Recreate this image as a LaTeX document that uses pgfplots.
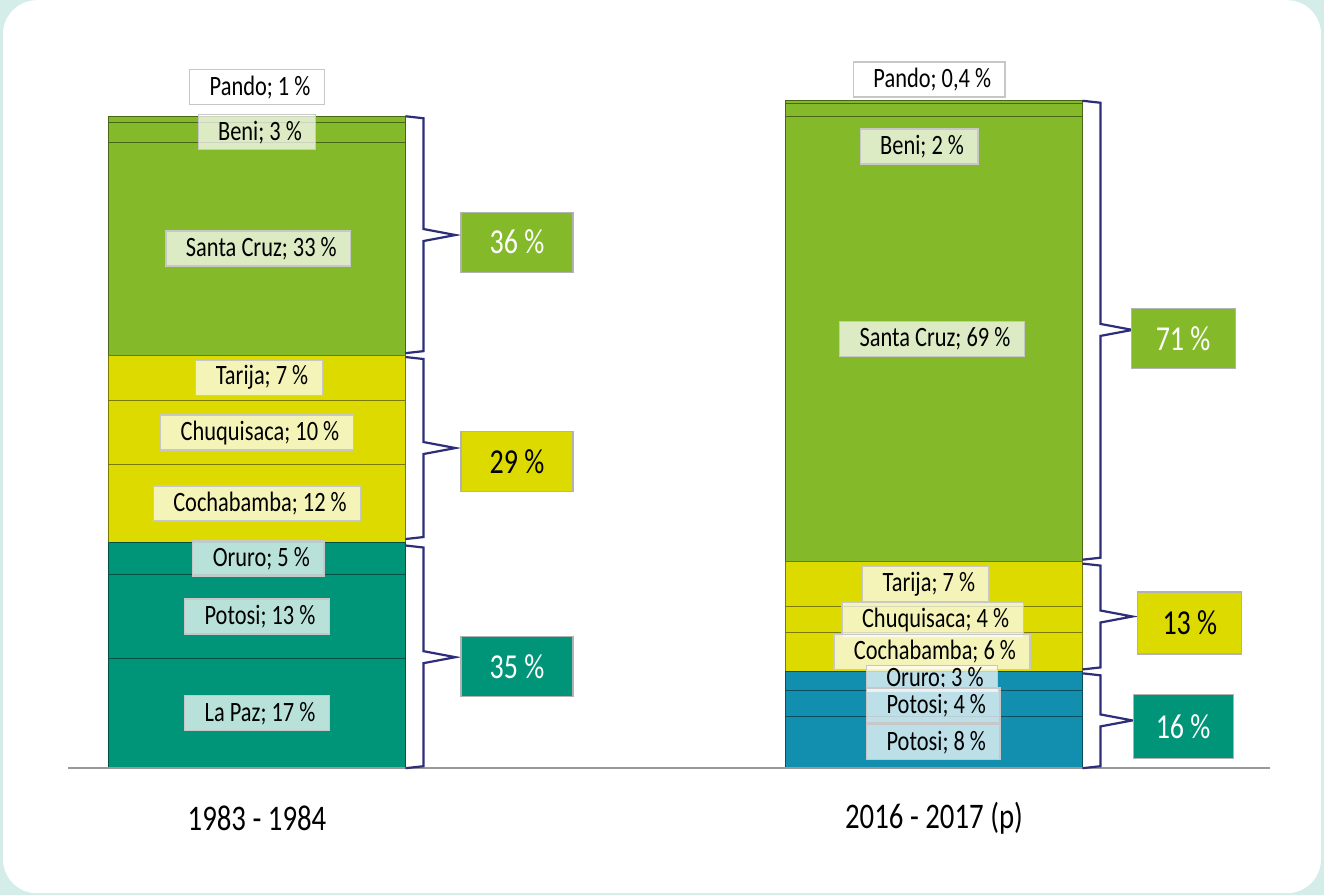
\documentclass[border=0pt]{standalone}
\usepackage{pgfplots}
\pgfplotsset{compat=1.18}
\usepackage{fontspec}
\setmainfont{Carlito}[FakeStretch=0.8]
\usetikzlibrary{calc}

\definecolor{cGreen}{HTML}{84B92A}
\definecolor{cYellow}{HTML}{DDDA00}
\definecolor{cTeal}{HTML}{009479}
\definecolor{cBlue}{HTML}{128FAE}
\definecolor{cBrace}{HTML}{2D2E7A}
\definecolor{cMint}{HTML}{D4EDE9}

\tikzset{
  seg/.style={fill=white, fill opacity=0.72, text opacity=1, draw=black!22,
    line width=0.6pt, inner xsep=7pt, inner ysep=0pt, minimum height=17.5pt,
    font=\fontsize{14}{14}\selectfont, execute at begin node=\hspace*{3pt}},
  grp/.style={draw=black!30, line width=0.6pt, minimum width=56pt,
    minimum height=30pt, font=\fontsize{17.5}{17.5}\selectfont},
}

% group brace: edge x, top y, bottom y, middle y
\newcommand{\gbrace}[4]{%
  \draw[cBrace, line width=1.1pt, line join=miter, miter limit=12]
    (axis cs:#1,#2) -- ++(9pt,-1pt)
    -- ($(axis cs:#1,#4)+(9pt,3pt)$) -- ++(16pt,-3pt) -- ++(-16pt,-3pt)
    -- ($(axis cs:#1,#3)+(9pt,1pt)$) -- (axis cs:#1,#3);}

\pgfplotsset{
  panel/.style={
    at={(0pt,0pt)}, anchor=south west,
    scale only axis, width=662pt, height=447.5pt,
    xmin=-0.3796, xmax=1.5761, ymin=-19.675, ymax=118.98,
    axis line style={draw=none}, major tick length=0pt,
    ytick=\empty, xtick=\empty, clip=false,
    /pgf/number format/assume math mode=true,
  },
  bars/.style={panel, ybar stacked, bar width=148.5pt},
}

\begin{document}
\begin{tikzpicture}
% frame
\fill[cMint] (0,0) rectangle (662pt,447.5pt);
\fill[white, rounded corners=17pt] (1.5pt,1pt) rectangle (660.5pt,447.5pt);

% 1983 - 1984
\begin{axis}[bars]
\addplot[fill=cTeal, draw=cTeal!55!black, line width=0.5pt] coordinates {(0,17)};
\addplot[fill=cTeal, draw=cTeal!55!black, line width=0.5pt] coordinates {(0,13)};
\addplot[fill=cTeal, draw=cTeal!55!black, line width=0.5pt] coordinates {(0,5)};
\addplot[fill=cYellow, draw=cYellow!55!black, line width=0.5pt] coordinates {(0,12)};
\addplot[fill=cYellow, draw=cYellow!55!black, line width=0.5pt] coordinates {(0,10)};
\addplot[fill=cYellow, draw=cYellow!55!black, line width=0.5pt] coordinates {(0,7)};
\addplot[fill=cGreen, draw=cGreen!55!black, line width=0.5pt] coordinates {(0,33)};
\addplot[fill=cGreen, draw=cGreen!55!black, line width=0.5pt] coordinates {(0,3)};
\addplot[fill=cGreen, draw=cGreen!55!black, line width=0.5pt] coordinates {(0,1)};
\end{axis}

% 2016 - 2017 (p)
\begin{axis}[bars]
\addplot[fill=cBlue, draw=cBlue!55!black, line width=0.5pt] coordinates {(1,8)};
\addplot[fill=cBlue, draw=cBlue!55!black, line width=0.5pt] coordinates {(1,4)};
\addplot[fill=cBlue, draw=cBlue!55!black, line width=0.5pt] coordinates {(1,3)};
\addplot[fill=cYellow, draw=cYellow!55!black, line width=0.5pt] coordinates {(1,6)};
\addplot[fill=cYellow, draw=cYellow!55!black, line width=0.5pt] coordinates {(1,4)};
\addplot[fill=cYellow, draw=cYellow!55!black, line width=0.5pt] coordinates {(1,7)};
\addplot[fill=cGreen, draw=cGreen!55!black, line width=0.5pt] coordinates {(1,69)};
\addplot[fill=cGreen, draw=cGreen!55!black, line width=0.5pt] coordinates {(1,2)};
\addplot[fill=cGreen, draw=cGreen!55!black, line width=0.5pt] coordinates {(1,0.4)};
\end{axis}

% labels, braces and group totals
\begin{axis}[panel, xtick={0,1},
  xticklabels={1983 - 1984, 2016 - 2017 (p)},
  xticklabel style={anchor=center, yshift=38.5pt, font=\fontsize{18}{18}\selectfont}]
\draw[black!40, line width=0.8pt] (axis cs:-0.2792,0) -- (axis cs:1.4963,0);

\node[seg, fill opacity=1] at (axis cs:0,105.5) {Pando; 1 \%};
\node[seg] at (axis cs:0,98.5) {Beni; 3 \%};
\node[seg] at (axis cs:0.002,80.5) {Santa Cruz; 33 \%};
\node[seg] at (axis cs:0.003,60.5) {Tarija; 7 \%};
\node[seg] at (axis cs:0,52) {Chuquisaca; 10 \%};
\node[seg] at (axis cs:0,41) {Cochabamba; 12 \%};
\node[seg] at (axis cs:0.002,32.5) {Oruro; 5 \%};
\node[seg] at (axis cs:0,23.5) {Potosi; 13 \%};
\node[seg] at (axis cs:0,8.5) {La Paz; 17 \%};

\gbrace{0.2193}{101}{64.3}{82.6}
\gbrace{0.2193}{63.7}{35.5}{49.6}
\gbrace{0.2193}{34.5}{0}{17.2}

\node[grp, fill=cGreen, text=white] at (axis cs:0.384,81.5) {36 \%};
\node[grp, fill=cYellow, text=black] at (axis cs:0.384,47.5) {29 \%};
\node[grp, fill=cTeal, text=white] at (axis cs:0.384,15.8) {35 \%};

\node[seg, fill opacity=1] at (axis cs:0.993,106.7) {Pando; 0,4 \%};
\node[seg] at (axis cs:0.978,96.3) {Beni; 2 \%};
\node[seg] at (axis cs:0.997,66.5) {Santa Cruz; 69 \%};
\node[seg] at (axis cs:0.988,28.5) {Tarija; 7 \%};
\node[seg] at (axis cs:0.998,23) {Chuquisaca; 4 \%};
\node[seg] at (axis cs:0.997,18) {Cochabamba; 6 \%};
\node[seg, minimum height=13pt] at (axis cs:0.997,13.9) {Oruro; 3 \%};
\node[seg] at (axis cs:0.999,9.7) {Potosi; 4 \%};
\node[seg] at (axis cs:0.999,4) {Potosi; 8 \%};

\gbrace{1.2193}{103.4}{32.3}{67.9}
\gbrace{1.2193}{31.7}{15.3}{23.5}
\gbrace{1.2193}{14.7}{0}{7.4}

\node[grp, fill=cGreen, text=white, minimum width=52pt] at (axis cs:1.368,66.6) {71 \%};
\node[grp, fill=cYellow, text=black, minimum width=52pt, minimum height=31pt] at (axis cs:1.378,22.5) {13 \%};
\node[grp, fill=cTeal, text=white, minimum width=50pt, minimum height=32pt] at (axis cs:1.368,6.5) {16 \%};
\end{axis}
\end{tikzpicture}
\end{document}
